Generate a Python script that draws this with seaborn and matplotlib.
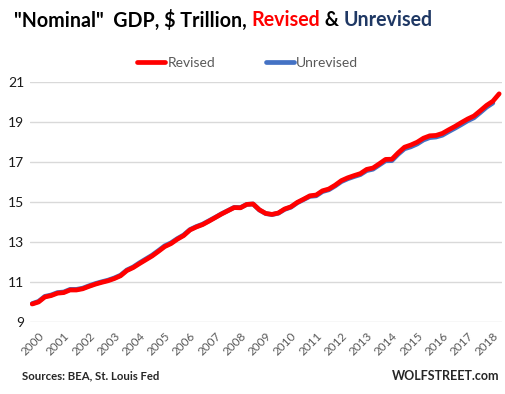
import matplotlib
matplotlib.use("Agg")
import matplotlib.pyplot as plt
import seaborn as sns
import numpy as np
import pandas as pd

# quarterly, 1999Q4 .. 2018Q2 ($ trillion)
revised = [
    9.90,
    10.00, 10.25, 10.32, 10.44,
    10.47, 10.60, 10.60, 10.66,
    10.78, 10.89, 10.98, 11.06,
    11.17, 11.31, 11.57, 11.72,
    11.92, 12.11, 12.30, 12.53,
    12.77, 12.92, 13.14, 13.32,
    13.60, 13.75, 13.87, 14.04,
    14.22, 14.40, 14.56, 14.72,
    14.71, 14.88, 14.90, 14.61,
    14.43, 14.38, 14.45, 14.65,
    14.76, 14.98, 15.14, 15.31,
    15.35, 15.56, 15.65, 15.84,
    16.07, 16.21, 16.32, 16.42,
    16.63, 16.70, 16.91, 17.13,
    17.14, 17.46, 17.74, 17.85,
    17.99, 18.19, 18.31, 18.33,
    18.43, 18.61, 18.78, 18.97,
    19.15, 19.30, 19.56, 19.83,
    20.04, 20.41,
]

# quarterly, 1999Q4 .. 2018Q1
unrevised = [
    9.92,
    10.03, 10.28, 10.35, 10.47,
    10.50, 10.63, 10.63, 10.69,
    10.81, 10.92, 11.01, 11.09,
    11.20, 11.34, 11.60, 11.75,
    11.96, 12.15, 12.34, 12.57,
    12.81, 12.96, 13.17, 13.35,
    13.62, 13.77, 13.89, 14.06,
    14.23, 14.41, 14.57, 14.73,
    14.72, 14.88, 14.90, 14.60,
    14.42, 14.37, 14.44, 14.63,
    14.74, 14.96, 15.12, 15.28,
    15.31, 15.52, 15.61, 15.80,
    16.02, 16.16, 16.27, 16.37,
    16.57, 16.64, 16.85, 17.06,
    17.07, 17.39, 17.66, 17.76,
    17.90, 18.10, 18.22, 18.25,
    18.34, 18.52, 18.69, 18.87,
    19.06, 19.21, 19.47, 19.74,
    19.95,
]

years = [str(y) for y in range(2000, 2019)]
yticks = [9, 11, 13, 15, 17, 19, 21]

RED = "#FF0000"
BLUE = "#4472C4"
NAVY = "#1F3864"
GRAY = "#595959"

sns.set_style("white")
plt.rcParams["font.family"] = ["Lato", "DejaVu Sans"]

fig = plt.figure(figsize=(5.06, 3.94), dpi=100)
ax = fig.add_axes([30 / 506, 1 - 322 / 394, 472 / 506, 240 / 394])

df_rev = pd.DataFrame({"q": np.arange(len(revised)), "gdp": revised})
df_unr = pd.DataFrame({"q": np.arange(len(unrevised)), "gdp": unrevised})

sns.lineplot(data=df_unr, x="q", y="gdp", ax=ax, color=BLUE, linewidth=3.4,
             label="Unrevised", solid_capstyle="round")
sns.lineplot(data=df_rev, x="q", y="gdp", ax=ax, color=RED, linewidth=3.4,
             label="Revised", solid_capstyle="round")

ax.set_ylim(9, 21)
ax.set_xlim(-0.35, len(revised) - 1 + 0.45)
ax.set_yticks(yticks)
ax.set_yticklabels([str(v) for v in yticks], fontsize=10, color="#1a1a1a")
ax.set_xticks(np.arange(1, len(revised), 4))
ax.set_xticklabels(years, rotation=45, ha="right", rotation_mode="anchor",
                   fontsize=8.5, color=GRAY)
ax.tick_params(axis="both", length=0, pad=4)
ax.tick_params(axis="x", pad=6)
ax.grid(axis="y", color="#D9D9D9", linewidth=1)
ax.set_axisbelow(True)
for s in ax.spines.values():
    s.set_visible(False)
ax.set_xlabel("")
ax.set_ylabel("")

handles, labels = ax.get_legend_handles_labels()
leg = ax.legend(handles[::-1], labels[::-1], loc="center", ncol=2,
                bbox_to_anchor=(0.49, 1 - 63 / 394), bbox_transform=fig.transFigure,
                frameon=False, fontsize=10, handlelength=2.0, handletextpad=0.2,
                columnspacing=3.6)
for t in leg.get_texts():
    t.set_color(GRAY)

# multicoloured title
parts = [('"Nominal"  GDP, $ Trillion, ', "black"), ("Revised", RED),
         (" & ", "black"), ("Unrevised", NAVY)]
fig.canvas.draw()
renderer = fig.canvas.get_renderer()
x = 14
for txt, col in parts:
    t = fig.text(x / 506, 1 - 20 / 394, txt, color=col, fontsize=14.1,
                 fontweight="bold", va="center", ha="left")
    w = t.get_window_extent(renderer).width
    x += w

fig.text(22 / 506, 1 - 376 / 394, "Sources: BEA, St. Louis Fed", fontsize=8.2,
         fontweight="bold", va="center", ha="left")
fig.text(499 / 506, 1 - 376 / 394, "WOLFSTREET.com", fontsize=9,
         fontweight="bold", va="center", ha="right")

fig.savefig("out.png", dpi=100)
